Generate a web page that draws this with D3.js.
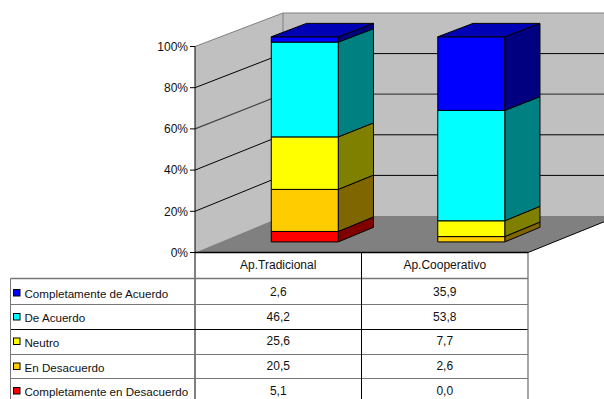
<!DOCTYPE html>
<html lang="es">
<head>
<meta charset="utf-8">
<script src="https://cdn.jsdelivr.net/npm/d3@7"></script>
<style>
  html, body { margin: 0; padding: 0; background: #fff; }
  svg { display: block; }
  text { font-family: "Liberation Sans", Arial, sans-serif; font-size: 12px; fill: #111; }
  text.series { font-size: 11.6px; }
</style>
</head>
<body>
<svg id="chart" width="604" height="399"></svg>
<script>
// Survey answers per teaching approach, percentages
const categories = ["Ap.Tradicional", "Ap.Cooperativo"];
const seriesNames = ["Completamente de Acuerdo", "De Acuerdo", "Neutro", "En Desacuerdo", "Completamente en Desacuerdo"];
const tradicional = [2.6, 46.2, 25.6, 20.5, 5.1];
const cooperativo = [35.9, 53.8, 7.7, 2.6, 0.0];
const frontColors = ["#0000ff", "#00ffff", "#ffff00", "#ffcc00", "#ff0000"];
const sideColors = ["#000080", "#008080", "#808000", "#806600", "#800000"];
const topColor = "#0000b4";
const axisTicks = [0, 20, 40, 60, 80, 100];

const svg = d3.select("#chart");
const W = 604;

// Plot frame: front plane and rear wall use slightly different vertical scales
const yFront = d3.scaleLinear().domain([0, 100]).range([252.5, 46.5]);
const yBack = d3.scaleLinear().domain([0, 100]).range([216, 13]);
const xBand = d3.scaleBand().domain(categories).range([195, 528]);
const depthX = 88;
const colX = [10.5, 195, 361.5, 528];
const rowY = [278.5, 304.5, 329.5, 354.5, 378.5];

// Maps (x on the front plane, value, depth 0..1) to screen coordinates
const project = (x, v, d) => [
  x + d * depthX,
  yFront(v) + d * (yBack(v) - yFront(v))
];
const poly = pts => pts.map(p => p.join(",")).join(" ");

// Walls and floor
const wallRight = W + 20;
svg.append("polygon")
  .attr("points", poly([[195, yFront(100)], [283, yBack(100)], [283, yBack(0)], [195, yFront(0)]]))
  .attr("fill", "#c0c0c0");
svg.append("rect")
  .attr("x", 283).attr("y", yBack(100))
  .attr("width", wallRight - 283).attr("height", yBack(0) - yBack(100))
  .attr("fill", "#c0c0c0");
svg.append("polygon")
  .attr("points", poly([[195, yFront(0)], [283, yBack(0)], [wallRight, yBack(0)], [wallRight, yFront(0) - (wallRight - 528) * 0.404], [528, yFront(0)]]))
  .attr("fill", "#808080");

// Wall outline along the top and the rear corner
svg.append("polyline")
  .attr("points", poly([[195, yFront(100)], [283, yBack(100)], [wallRight, yBack(100)]]))
  .attr("fill", "none").attr("stroke", "#808080").attr("stroke-width", 1);
svg.append("line")
  .attr("x1", 283).attr("x2", 283).attr("y1", yBack(100)).attr("y2", yBack(0))
  .attr("stroke", "#808080");

// Gridlines run across the side wall, then along the rear wall
axisTicks.filter(t => t > 0 && t < 100).forEach(t => {
  svg.append("polyline")
    .attr("points", poly([[195, yFront(t)], [283, yBack(t)], [wallRight, yBack(t)]]))
    .attr("fill", "none")
    .attr("stroke", t === 60 ? "#444" : "#000")
    .attr("stroke-width", t === 60 ? 1.3 : 1);
});

// Stacked columns, drawn from the bottom segment upward
const d0 = 0.29, d1 = 0.69, barW = 67;
const valuesByCategory = [tradicional, cooperativo];
categories.forEach((cat, c) => {
  const x0 = xBand(cat) + xBand.bandwidth() / 2 - barW / 2 + 1;
  const x1 = x0 + barW;
  const vals = valuesByCategory[c];
  // cumulative bounds per series; first series sits on top of the stack
  let acc = 0;
  const segs = vals.map((v, i) => ({ v, i })).reverse().map(s => {
    const seg = { ...s, lo: acc, hi: acc + s.v };
    acc += s.v;
    return seg;
  }).filter(s => s.v > 0);
  const g = svg.append("g");
  g.selectAll("polygon.side").data(segs).join("polygon")
    .attr("class", "side")
    .attr("points", s => poly([project(x1, s.lo, d0), project(x1, s.hi, d0), project(x1, s.hi, d1), project(x1, s.lo, d1)]))
    .attr("fill", s => sideColors[s.i]).attr("stroke", "#000");
  g.selectAll("polygon.front").data(segs).join("polygon")
    .attr("class", "front")
    .attr("points", s => poly([project(x0, s.lo, d0), project(x1, s.lo, d0), project(x1, s.hi, d0), project(x0, s.hi, d0)]))
    .attr("fill", s => frontColors[s.i]).attr("stroke", "#000");
  g.append("polygon")
    .attr("points", poly([project(x0, acc, d0), project(x1, acc, d0), project(x1, acc, d1), project(x0, acc, d1)]))
    .attr("fill", topColor).attr("stroke", "#000");
});

// Value axis with its ticks
svg.append("line").attr("x1", 195).attr("x2", 195).attr("y1", yFront(100)).attr("y2", 399).attr("stroke", "#000");
const tickG = svg.append("g");
tickG.selectAll("line").data(axisTicks).join("line")
  .attr("x1", 190).attr("x2", 195)
  .attr("y1", d => yFront(d)).attr("y2", d => yFront(d))
  .attr("stroke", "#000");
tickG.selectAll("text").data(axisTicks).join("text")
  .attr("x", 188).attr("y", d => yFront(d) + 4.3)
  .attr("text-anchor", "end")
  .text(d => d + "%");

// Data table beneath the plot
const rows = seriesNames.map((name, i) => ({
  name, i, values: [tradicional[i], cooperativo[i]]
}));
const fmt = v => v.toFixed(1).replace(".", ",");
const table = svg.append("g");

table.selectAll("line.row").data(rowY).join("line")
  .attr("class", "row")
  .attr("x1", colX[0]).attr("x2", colX[3])
  .attr("y1", d => d).attr("y2", d => d)
  .attr("stroke", (d, i) => i === 2 ? "#000" : "#777")
  .attr("stroke-width", (d, i) => i === 0 ? 1.5 : 1);
table.append("line").attr("x1", colX[0]).attr("x2", colX[0]).attr("y1", rowY[0]).attr("y2", 399).attr("stroke", "#777");
table.append("line").attr("x1", colX[2]).attr("x2", colX[2]).attr("y1", yFront(0)).attr("y2", 399).attr("stroke", "#000");
table.append("line").attr("x1", colX[3]).attr("x2", colX[3]).attr("y1", yFront(0)).attr("y2", 399).attr("stroke", "#777").attr("stroke-width", 1.3);
table.append("line").attr("x1", 195).attr("x2", colX[3]).attr("y1", yFront(0)).attr("y2", yFront(0)).attr("stroke", "#000").attr("stroke-width", 1.6);
table.append("line")
  .attr("x1", colX[3]).attr("y1", yFront(0))
  .attr("x2", wallRight).attr("y2", yFront(0) - (wallRight - 528) * 0.404)
  .attr("stroke", "#000");

// Column headers
table.selectAll("text.head").data(categories).join("text")
  .attr("class", "head")
  .attr("x", d => xBand(d) + xBand.bandwidth() / 2)
  .attr("y", 268.5)
  .attr("text-anchor", "middle")
  .text(d => d);

// Legend keys, series names and values per row
const labelY = [298, 322, 346.5, 371.5, 396];
const valueY = [296, 320.5, 345, 369.5, 395];
const rowG = table.selectAll("g.row").data(rows).join("g").attr("class", "row");
rowG.append("rect")
  .attr("x", 13.5).attr("y", d => labelY[d.i] - 8.5)
  .attr("width", 6.5).attr("height", 6.5)
  .attr("fill", d => frontColors[d.i]).attr("stroke", "#000");
rowG.append("text")
  .attr("class", "series")
  .attr("x", 24.5).attr("y", d => labelY[d.i])
  .text(d => d.name);
categories.forEach((cat, c) => {
  rowG.append("text")
    .attr("x", xBand(cat) + xBand.bandwidth() / 2)
    .attr("y", d => valueY[d.i])
    .attr("text-anchor", "middle")
    .text(d => fmt(d.values[c]));
});
</script>
</body>
</html>
